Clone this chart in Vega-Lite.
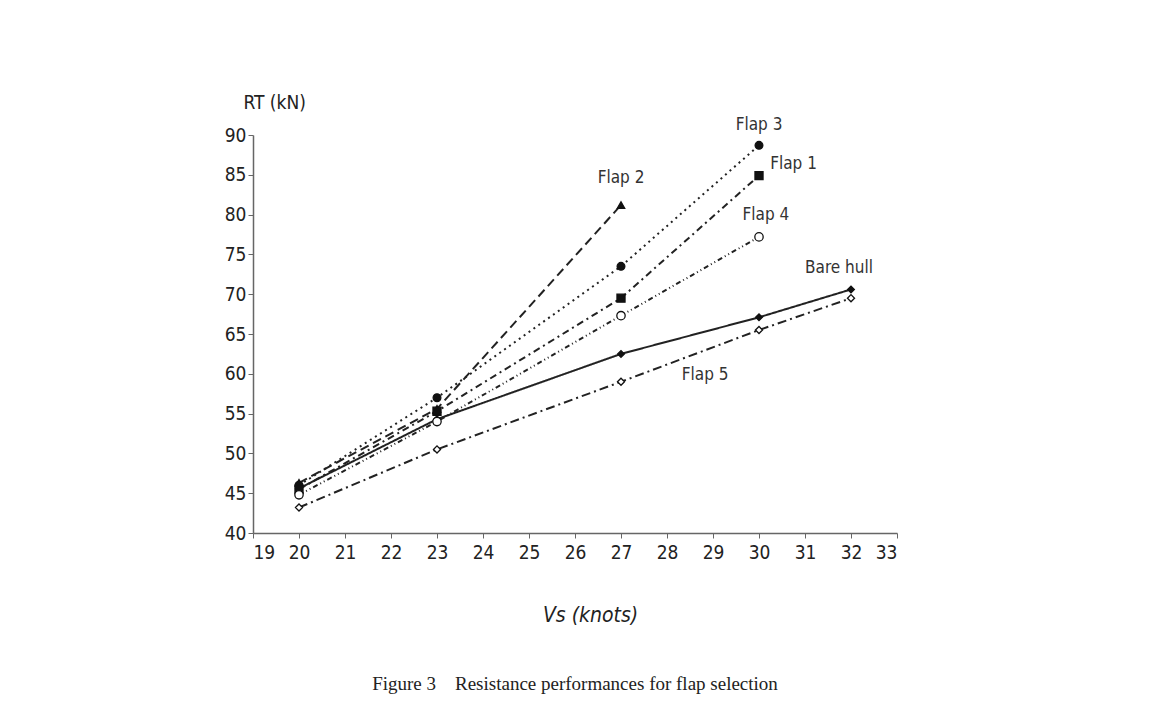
{
  "$schema": "https://vega.github.io/schema/vega-lite/v6.json",
  "autosize": "none",
  "width": 644,
  "height": 398,
  "padding": {"left": 253, "top": 135, "right": 264, "bottom": 183},
  "background": "white",
  "title": {
    "text": "Figure 3\u00a0\u00a0\u00a0\u00a0Resistance performances for flap selection",
    "orient": "bottom",
    "anchor": "middle",
    "font": "Liberation Serif",
    "fontSize": 19,
    "fontWeight": "normal",
    "color": "#222",
    "offset": 50
  },
  "config": {
    "view": {"stroke": null},
    "axis": {
      "grid": false,
      "domainColor": "#666",
      "domainWidth": 1.5,
      "tickColor": "#666",
      "tickSize": 5,
      "labelFont": "DejaVu Sans Condensed, Liberation Sans Narrow, Liberation Sans, sans-serif",
      "labelFontSize": 19,
      "labelColor": "#222",
      "labelOverlap": false,
      "titleFont": "DejaVu Sans Condensed, Liberation Sans Narrow, Liberation Sans, sans-serif",
      "titleFontWeight": "normal",
      "titleColor": "#222"
    }
  },
  "datasets": {
    "series": [
      {"series": "Bare hull", "v": 20, "r": 45.6},
      {"series": "Bare hull", "v": 23, "r": 54.3},
      {"series": "Bare hull", "v": 27, "r": 62.5},
      {"series": "Bare hull", "v": 30, "r": 67.1},
      {"series": "Bare hull", "v": 32, "r": 70.6},
      {"series": "Flap 5", "v": 20, "r": 43.2},
      {"series": "Flap 5", "v": 23, "r": 50.5},
      {"series": "Flap 5", "v": 27, "r": 59.0},
      {"series": "Flap 5", "v": 30, "r": 65.5},
      {"series": "Flap 5", "v": 32, "r": 69.5},
      {"series": "Flap 2", "v": 20, "r": 46.3},
      {"series": "Flap 2", "v": 23, "r": 55.6},
      {"series": "Flap 2", "v": 27, "r": 81.2},
      {"series": "Flap 3", "v": 20, "r": 46.0},
      {"series": "Flap 3", "v": 23, "r": 57.0},
      {"series": "Flap 3", "v": 27, "r": 73.5},
      {"series": "Flap 3", "v": 30, "r": 88.7},
      {"series": "Flap 1", "v": 20, "r": 45.5},
      {"series": "Flap 1", "v": 23, "r": 55.3},
      {"series": "Flap 1", "v": 27, "r": 69.5},
      {"series": "Flap 1", "v": 30, "r": 84.9},
      {"series": "Flap 4", "v": 20, "r": 44.8},
      {"series": "Flap 4", "v": 23, "r": 54.0},
      {"series": "Flap 4", "v": 27, "r": 67.3},
      {"series": "Flap 4", "v": 30, "r": 77.2}
    ],
    "labels": [
      {"label": "Flap 3", "v": 30.0, "r": 91.2},
      {"label": "Flap 1", "v": 30.75, "r": 86.3},
      {"label": "Flap 2", "v": 27.0, "r": 84.6},
      {"label": "Flap 4", "v": 30.15, "r": 80.0},
      {"label": "Bare hull", "v": 31.74, "r": 73.3},
      {"label": "Flap 5", "v": 28.83, "r": 59.9}
    ]
  },
  "encoding": {
    "x": {
      "field": "v", "type": "quantitative",
      "scale": {"domain": [19, 33], "nice": false, "zero": false},
      "axis": {
        "values": [19, 20, 21, 22, 23, 24, 25, 26, 27, 28, 29, 30, 31, 32, 33],
        "title": "Vs (knots)",
        "titleFontSize": 21,
        "titleFontStyle": "italic",
        "titleX": 337,
        "titleY": 88,
        "titleAlign": "center",
        "titleBaseline": "alphabetic",
        "labelPadding": 5
      }
    },
    "y": {
      "field": "r", "type": "quantitative",
      "scale": {"domain": [40, 90], "nice": false, "zero": false},
      "axis": {
        "values": [40, 45, 50, 55, 60, 65, 70, 75, 80, 85, 90],
        "tickCount": 11,
        "title": "RT (kN)",
        "titleAngle": 0,
        "titleFontSize": 19,
        "titleX": -10,
        "titleY": -27,
        "titleAlign": "left",
        "titleBaseline": "alphabetic",
        "labelPadding": 2
      }
    }
  },
  "layer": [
    {
      "data": {"name": "series"},
      "mark": {"type": "line", "strokeWidth": 2, "color": "#222"},
      "encoding": {
        "detail": {"field": "series"},
        "strokeDash": {
          "field": "series", "type": "nominal", "legend": null,
          "scale": {
            "domain": ["Bare hull", "Flap 5", "Flap 2", "Flap 3", "Flap 1", "Flap 4"],
            "range": [[1, 0], [9, 4, 2, 4], [9, 5], [2, 4], [7, 4, 2, 4], [5, 3, 1, 3, 1, 3]]
          }
        }
      }
    },
    {
      "data": {"name": "series"},
      "mark": {"type": "point", "filled": true, "stroke": "#111", "strokeWidth": 1.3, "opacity": 1},
      "encoding": {
        "shape": {
          "field": "series", "type": "nominal", "legend": null,
          "scale": {
            "domain": ["Bare hull", "Flap 5", "Flap 2", "Flap 3", "Flap 1", "Flap 4"],
            "range": ["diamond", "diamond", "triangle-up", "circle", "square", "circle"]
          }
        },
        "fill": {
          "field": "series", "type": "nominal", "legend": null,
          "scale": {
            "domain": ["Bare hull", "Flap 5", "Flap 2", "Flap 3", "Flap 1", "Flap 4"],
            "range": ["#111", "white", "#111", "#111", "#111", "white"]
          }
        },
        "size": {
          "field": "series", "type": "nominal", "legend": null,
          "scale": {
            "domain": ["Bare hull", "Flap 5", "Flap 2", "Flap 3", "Flap 1", "Flap 4"],
            "range": [45, 70, 80, 80, 75, 70]
          }
        }
      }
    },
    {
      "data": {"name": "labels"},
      "mark": {"type": "text", "font": "DejaVu Sans Condensed, Liberation Sans Narrow, Liberation Sans, sans-serif", "fontSize": 17, "color": "#333", "baseline": "middle", "align": "center"},
      "encoding": {
        "text": {"field": "label"}
      }
    }
  ]
}
